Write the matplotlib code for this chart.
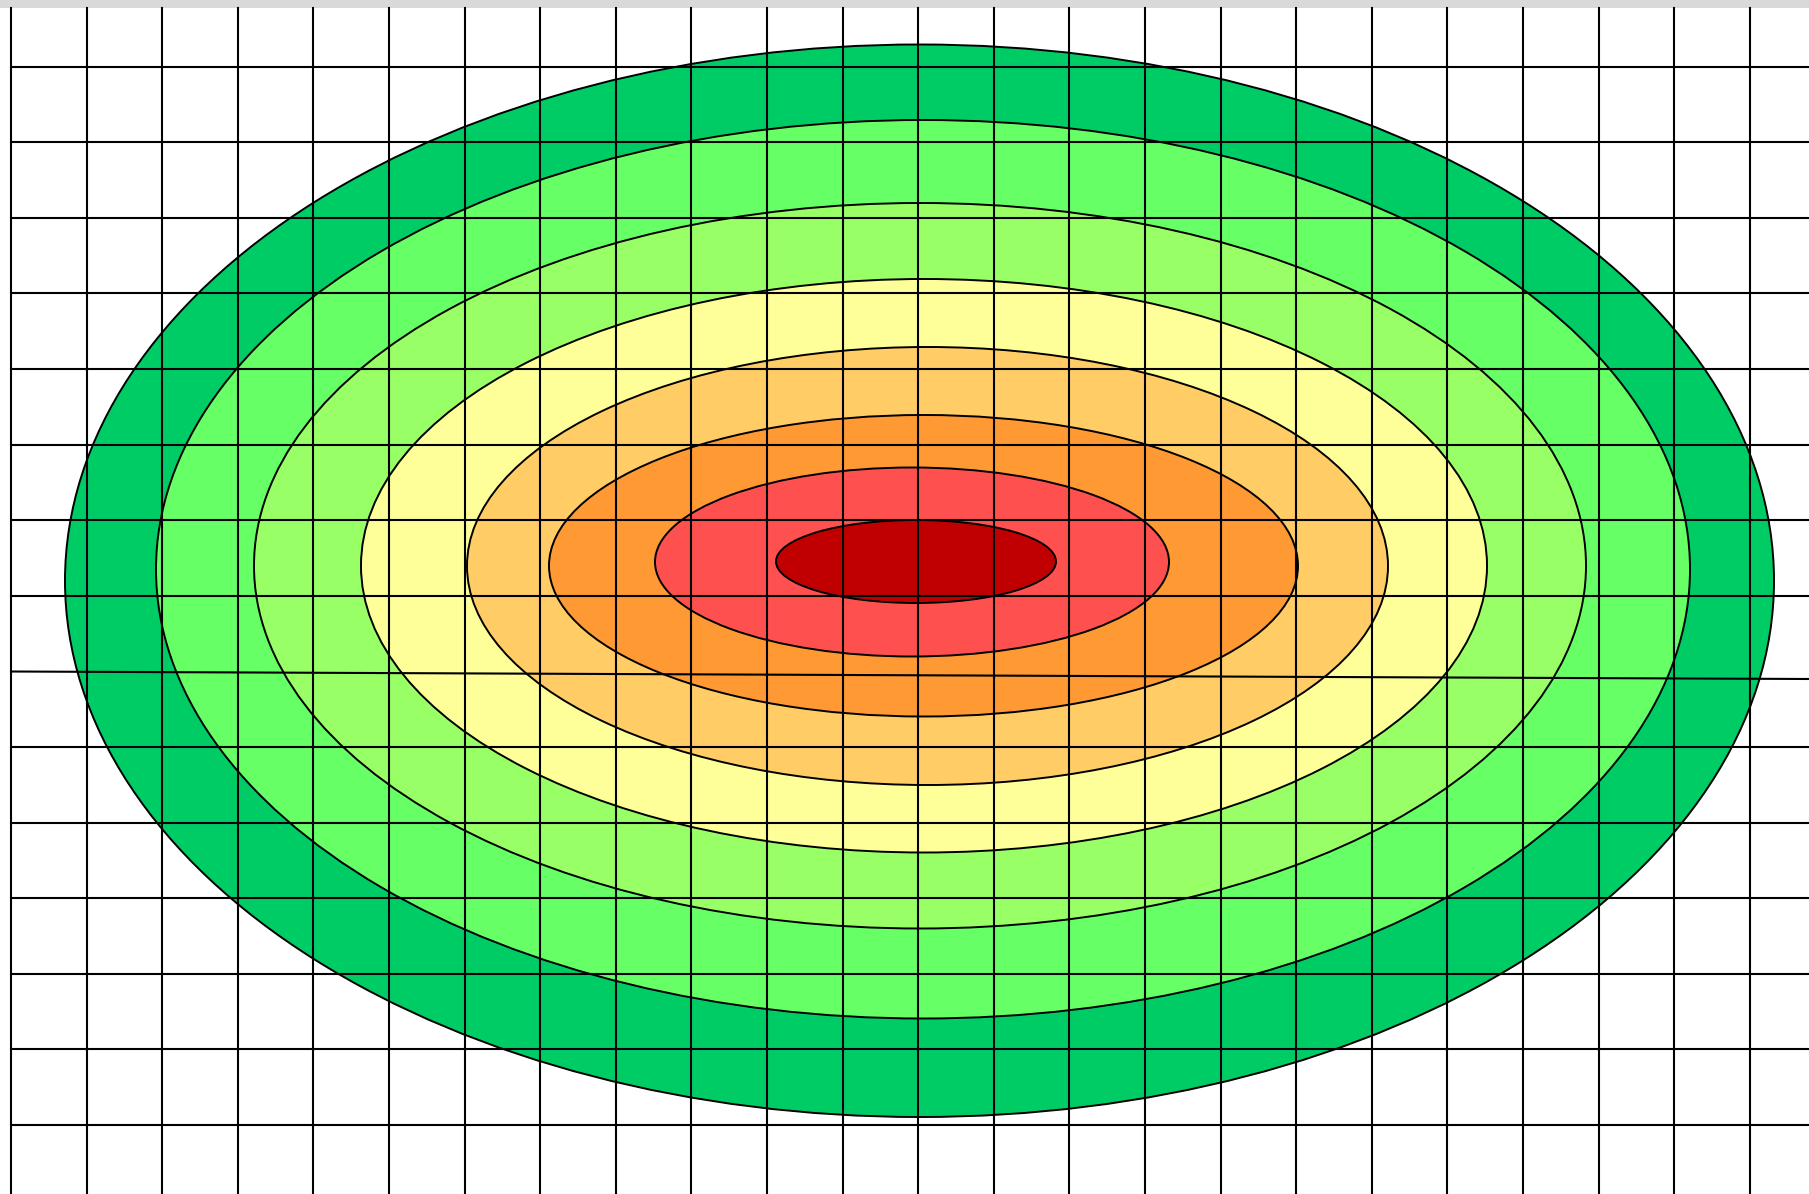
import matplotlib
matplotlib.use("Agg")
import matplotlib.pyplot as plt
from matplotlib.patches import Ellipse, Rectangle

# picture is laid out in pixel units (1809 x 1194), y going down
W, H = 1809, 1194

# nested ellipses, outermost first: left, right, top, bottom extents
ell_left = [65, 156, 254, 361, 467, 549, 655, 776]
ell_right = [1774, 1690, 1586, 1487, 1388, 1298, 1169, 1056]
ell_top = [44.5, 120, 203, 279, 347, 415, 467.5, 520]
ell_bottom = [1117, 1018.5, 928.5, 852.5, 785, 716.5, 656.5, 603]
ell_colors = ["#00CC66", "#66FF66", "#99FF66", "#FFFF99",
              "#FFCC66", "#FF9933", "#FF5050", "#C00000"]

# grid lines
grid_x = [11, 86.6, 162.2, 237.8, 313.4, 389, 464.6, 540.2, 615.8, 691.4,
          767, 842.6, 918.2, 993.8, 1069.4, 1145, 1220.6, 1296.2, 1371.8,
          1447.4, 1523, 1598.6, 1674.2, 1749.8]
grid_y_left = [66.5, 142.1, 217.7, 293.3, 368.9, 444.5, 520.1, 595.7, 671.5,
               746.9, 822.5, 898.1, 973.7, 1049.3, 1124.9]
grid_y_right = [66.5, 142.1, 217.7, 293.3, 368.9, 444.5, 520.1, 595.7, 679,
                746.9, 822.5, 898.1, 973.7, 1049.3, 1124.9]

fig = plt.figure(figsize=(W / 100, H / 100), dpi=100)
ax = fig.add_axes([0, 0, 1, 1])
ax.set_xlim(0, W)
ax.set_ylim(H, 0)
ax.axis("off")

# light grey band along the top
ax.add_patch(Rectangle((0, 0), W, 8, facecolor="#d9d9d9", edgecolor="none", zorder=0))

for l, r, t, b, c in zip(ell_left, ell_right, ell_top, ell_bottom, ell_colors):
    e = Ellipse(((l + r) / 2, (t + b) / 2), r - l, b - t,
                facecolor=c, edgecolor="black", lw=1.4, zorder=1)
    ax.add_patch(e)

for x in grid_x:
    ax.plot([x, x], [8, H], color="black", lw=1.5, zorder=2)

for yl, yr in zip(grid_y_left, grid_y_right):
    ax.plot([11, W], [yl, yr], color="black", lw=1.5, zorder=2)

fig.savefig("out.png", dpi=100)
